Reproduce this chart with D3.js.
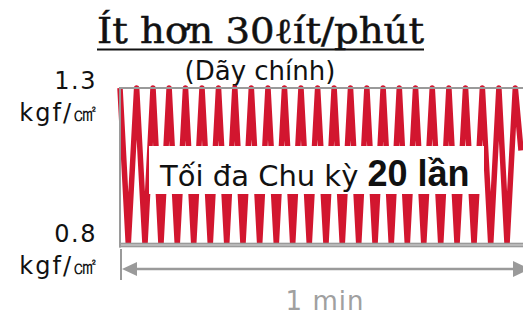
<!DOCTYPE html>
<html lang="vi">
<head>
<meta charset="UTF-8">
<title>Ít hơn 30ℓít/phút</title>
<script src="https://d3js.org/d3.v7.min.js"></script>
<style>
  body { margin: 0; background: #fff; }
</style>
</head>
<body>
<svg width="523" height="316"></svg>
<script>
// du lieu doc tu hinh: thoi diem dinh/day (giay) va ap suat (kgf/cm2)
var turnTimes = [0, 1.24, 2.49, 3.74, 4.94, 6.13, 7.35, 8.57, 9.80, 11.03,
  12.27, 13.51, 14.74, 15.97, 17.18, 18.40, 19.65, 20.90, 22.14, 23.39,
  24.61, 25.84, 27.08, 28.32, 29.57, 30.82, 32.04, 33.26, 34.49, 35.72,
  36.94, 38.16, 39.37, 40.59, 41.79, 42.99, 44.22, 45.45, 46.72, 47.99,
  49.21, 50.43, 51.70, 52.97, 54.22, 55.47, 56.69, 57.91, 59.15, 60];
var pressures = [1.3, 0.8, 1.3, 0.8, 1.3, 0.8, 1.3, 0.8, 1.3, 0.8,
  1.3, 0.8, 1.3, 0.8, 1.3, 0.8, 1.3, 0.8, 1.3, 0.8,
  1.3, 0.8, 1.3, 0.8, 1.3, 0.8, 1.3, 0.8, 1.3, 0.8,
  1.3, 0.8, 1.3, 0.8, 1.3, 0.8, 1.3, 0.8, 1.3, 0.8,
  1.3, 0.8, 1.3, 0.8, 1.3, 0.8, 1.3, 0.8, 1.3, 1.1];
var yTicks = [1.3, 0.8];
var unitText = "kgf/㎠";
var titleText = "Ít hơn 30ℓít/phút";
var subTitle = "(Dãy chính)";
var noteText = "Tối đa Chu kỳ ";
var noteBold = "20 lần";
var spanLabel = "1 min";

var svg = d3.select("svg");
var gray = "#9a9a9a";
var red = "#d2162f";

var x = d3.scaleLinear().domain([0, 60]).range([120, 521]);
var y = d3.scaleLinear().domain([0.8, 1.3]).range([244, 88]);

var data = turnTimes.map(function(t, i) { return {t: t, p: pressures[i]}; });

// tieu de
svg.append("text")
  .attr("x", 260.5).attr("y", 43)
  .attr("text-anchor", "middle")
  .attr("font-family", "DejaVu Serif")
  .attr("font-size", 35)
  .attr("fill", "#111")
  .attr("stroke", "#111")
  .attr("stroke-width", 0.5)
  .attr("textLength", 327)
  .attr("lengthAdjust", "spacingAndGlyphs")
  .text(titleText);
svg.append("line")
  .attr("x1", 97).attr("x2", 424)
  .attr("y1", 49.5).attr("y2", 49.5)
  .attr("stroke", "#111").attr("stroke-width", 2);

svg.append("text")
  .attr("x", 260).attr("y", 80)
  .attr("text-anchor", "middle")
  .attr("font-family", "DejaVu Sans")
  .attr("font-size", 26)
  .attr("fill", "#111")
  .text(subTitle);

// song ap suat
var line = d3.line()
  .x(function(d) { return x(d.t); })
  .y(function(d) { return y(d.p); });

svg.append("path")
  .datum(data)
  .attr("fill", "none")
  .attr("stroke", red)
  .attr("stroke-width", 5.5)
  .attr("stroke-linejoin", "round")
  .attr("d", line);

// khung
svg.append("line")
  .attr("x1", x(0)).attr("x2", 523)
  .attr("y1", y(1.3)).attr("y2", y(1.3))
  .attr("stroke", gray).attr("stroke-width", 2);
svg.append("line")
  .attr("x1", x(0)).attr("x2", x(0))
  .attr("y1", y(1.3) - 1).attr("y2", 247.5)
  .attr("stroke", gray).attr("stroke-width", 2);
svg.append("rect")
  .attr("x", x(0) - 1).attr("y", 242.7)
  .attr("width", 523 - x(0) + 1).attr("height", 4.6)
  .attr("fill", gray);
svg.append("line")
  .attr("x1", x(0) + 1).attr("x2", 523)
  .attr("y1", 245).attr("y2", 245)
  .attr("stroke", "#d8d8d8").attr("stroke-width", 1);

// nhan truc y
var yl = svg.selectAll(".ylab").data(yTicks).enter().append("g")
  .attr("class", "ylab");
yl.append("text")
  .attr("x", 97).attr("y", function(d) { return d === 1.3 ? 89 : 242; })
  .attr("text-anchor", "end")
  .attr("font-family", "DejaVu Sans")
  .attr("font-size", 24)
  .attr("fill", "#111")
  .attr("letter-spacing", 1.5)
  .text(function(d) { return d.toFixed(1); });
var ut = yl.append("text")
  .attr("x", 97).attr("y", function(d) { return d === 1.3 ? 121 : 274; })
  .attr("text-anchor", "end")
  .attr("font-family", "DejaVu Sans")
  .attr("font-size", 24)
  .attr("fill", "#111");
ut.append("tspan").attr("letter-spacing", 2).text(unitText.slice(0, 4));
ut.append("tspan")
  .attr("font-family", "DejaVu Sans")
  .attr("font-size", 24)
  .text(unitText.slice(4));

// hop ghi chu
svg.append("rect")
  .attr("x", 149).attr("y", 146)
  .attr("width", 335).attr("height", 48)
  .attr("fill", "#fff");
var note = svg.append("text")
  .attr("x", 160).attr("y", 186)
  .attr("font-family", "DejaVu Sans")
  .attr("font-size", 29)
  .attr("fill", "#111");
note.append("tspan").text(noteText);
note.append("tspan")
  .attr("font-family", "Liberation Sans")
  .attr("font-weight", "bold")
  .attr("font-size", 36)
  .text(noteBold);

// mui ten 1 phut
var ay = 269;
svg.append("line")
  .attr("x1", x(0) + 1).attr("x2", x(0) + 1)
  .attr("y1", 249).attr("y2", 280)
  .attr("stroke", gray).attr("stroke-width", 2);
svg.append("line")
  .attr("x1", x(0) + 10).attr("x2", x(60) - 8)
  .attr("y1", ay).attr("y2", ay)
  .attr("stroke", gray).attr("stroke-width", 2.5);
svg.append("path")
  .attr("d", "M" + (x(0) + 2) + "," + ay + "L" + (x(0) + 17) + "," + (ay - 7) +
    "L" + (x(0) + 17) + "," + (ay + 7) + "Z")
  .attr("fill", gray);
svg.append("path")
  .attr("d", "M" + (x(60) + 9) + "," + ay + "L" + (x(60) - 8) + "," + (ay - 8) +
    "L" + (x(60) - 8) + "," + (ay + 8) + "Z")
  .attr("fill", gray);

svg.append("text")
  .attr("x", 325).attr("y", 310)
  .attr("text-anchor", "middle")
  .attr("font-family", "DejaVu Sans")
  .attr("font-size", 26)
  .attr("letter-spacing", 1)
  .attr("fill", "#a0a0a0")
  .text(spanLabel);
</script>
</body>
</html>
